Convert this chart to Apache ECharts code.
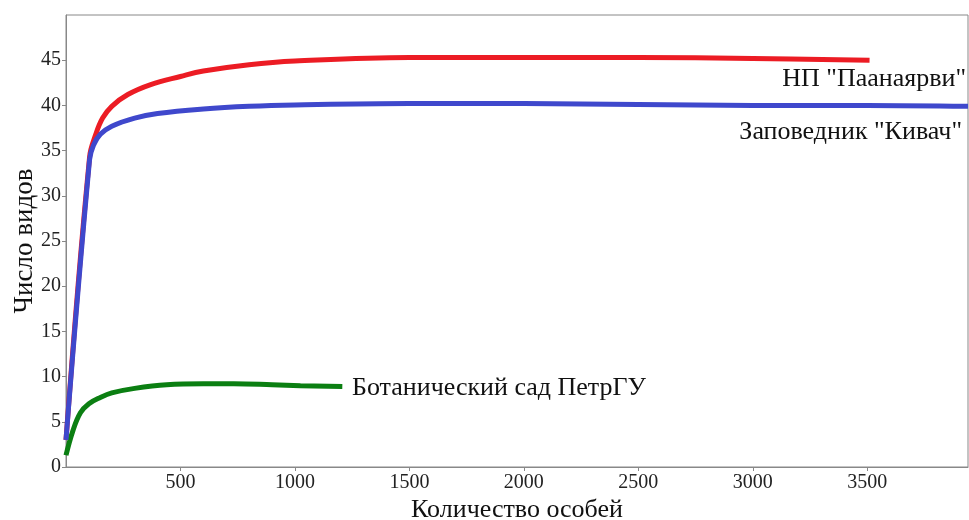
<!DOCTYPE html>
<html>
<head>
<meta charset="utf-8">
<script src="https://cdn.jsdelivr.net/npm/echarts@6/dist/echarts.min.js"></script>
<style>
  html, body { margin: 0; padding: 0; background: #fff; }
  #chart { width: 969px; height: 520px; }
</style>
</head>
<body>
<div id="chart"></div>
<script>
// кривые накопления видов
var paanajarvi = [[0,3],[103,34.3],[130,36.8],[160,38.6],[200,39.9],[270,41.2],[370,42.3],[500,43.2],[600,43.8],[800,44.5],[1000,44.9],[1500,45.3],[2000,45.3],[2500,45.3],[3000,45.2],[3510,45.0]];
var kivach = [[0,3],[103,34.0],[120,35.6],[150,36.8],[200,37.7],[300,38.6],[400,39.1],[600,39.6],[800,39.9],[1000,40.05],[1500,40.2],[2000,40.2],[2500,40.1],[3000,40.0],[3500,40.0],[3940,39.9]];
var botsad = [[0,1.3],[30,4.0],[63,6.0],[100,7.0],[150,7.7],[200,8.2],[300,8.7],[440,9.1],[600,9.2],[733,9.2],[900,9.1],[1024,9.0],[1207,8.9]];
var seriesNames = ['НП "Паанаярви"', 'Заповедник "Кивач"', 'Ботанический сад ПетрГУ'];

var font = "'Liberation Serif', 'Times New Roman', serif";
var chart = echarts.init(document.getElementById('chart'));

function line(name, data, color, z) {
    return {
        name: name,
        type: 'line',
        data: data,
        smooth: 0.4,
        showSymbol: false,
        z: z,
        lineStyle: { width: 5, color: color },
        itemStyle: { color: color }
    };
}

chart.setOption({
    animation: false,
    grid: { left: 66, right: 1, top: 15, bottom: 53, outerBoundsMode: 'none', containLabel: false,
        show: true, borderColor: '#888', borderWidth: 1 },
    xAxis: {
        type: 'value', min: 0, max: 3940, interval: 500,
        name: 'Количество особей', nameLocation: 'middle', nameGap: 30, nameMoveOverlap: false,
        nameTextStyle: { fontFamily: font, fontSize: 26, color: '#111' },
        axisLine: { lineStyle: { color: '#888' } },
        axisTick: { show: true, length: 4, lineStyle: { color: '#888' } },
        axisLabel: { fontFamily: font, fontSize: 20, color: '#222', showMinLabel: false, showMaxLabel: false, margin: 6,
            formatter: function (v) { return String(v); } },
        splitLine: { show: false }
    },
    yAxis: {
        type: 'value', min: 0, max: 50, interval: 5,
        name: 'Число видов', nameLocation: 'middle', nameGap: 28, nameMoveOverlap: false,
        nameTextStyle: { fontFamily: font, fontSize: 27, color: '#111' },
        axisLine: { show: true, lineStyle: { color: '#888' } },
        axisTick: { show: true, length: 4, lineStyle: { color: '#888' } },
        axisLabel: { fontFamily: font, fontSize: 20, color: '#222', showMaxLabel: false, margin: 5 },
        splitLine: { show: false }
    },
    graphic: [
        { type: 'text', right: 3, top: 66, style: { text: seriesNames[0], font: '26px ' + font, fill: '#111' } },
        { type: 'text', right: 7, top: 119, style: { text: seriesNames[1], font: '26px ' + font, fill: '#111' } },
        { type: 'text', left: 352, top: 375, style: { text: seriesNames[2], font: '26px ' + font, fill: '#111' } }
    ],
    series: [
        line(seriesNames[0], paanajarvi, '#ec1c24', 2),
        line(seriesNames[1], kivach, '#3f48cc', 3),
        line(seriesNames[2], botsad, '#0b7f12', 2)
    ]
});
</script>
</body>
</html>
